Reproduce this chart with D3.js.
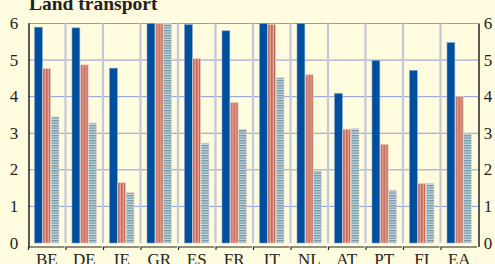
<!DOCTYPE html>
<html>
<head>
<meta charset="utf-8">
<script src="https://cdn.jsdelivr.net/npm/d3@7"></script>
<style>
  body { margin: 0; background: #fffbdf; }
  svg { display: block; }
  text { font-family: "Liberation Serif", "Times New Roman", serif; fill: #222; }
</style>
</head>
<body>
<div id="chart"></div>
<script>
// countries along the bottom
const countries = ["BE", "DE", "IE", "GR", "ES", "FR", "IT", "NL", "AT", "PT", "FI", "EA"];
const seriesNames = ["s1", "s2", "s3"];

// values (GR tops out at the axis limit)
const blueValues = [5.9, 5.88, 4.78, 6.0, 5.97, 5.8, 6.0, 6.0, 4.09, 4.99, 4.72, 5.48];
const redValues = [4.77, 4.87, 1.65, 6.0, 5.04, 3.84, 5.98, 4.6, 3.11, 2.7, 1.63, 4.01];
const tealValues = [3.45, 3.28, 1.38, 6.0, 2.73, 3.11, 4.52, 1.97, 3.13, 1.44, 1.63, 2.98];

const yTicks = [0, 1, 2, 3, 4, 5, 6];

const W = 495, H = 264;
const plotLeft = 28, plotRight = 478, plotTop = 23.5, plotBottom = 243;

const svg = d3.select("#chart").append("svg")
  .attr("width", W).attr("height", H);

svg.append("rect").attr("width", W).attr("height", H).attr("fill", "#fffbdf");

// stripe patterns for the second and third series
const defs = svg.append("defs");
const pRed = defs.append("pattern").attr("id", "redStripe")
  .attr("patternUnits", "userSpaceOnUse").attr("width", 3).attr("height", 4);
pRed.append("rect").attr("width", 3).attr("height", 4).attr("fill", "#e3a593");
pRed.append("rect").attr("width", 1.6).attr("height", 4).attr("fill", "#c26a5c");

const pTeal = defs.append("pattern").attr("id", "tealStripe")
  .attr("patternUnits", "userSpaceOnUse").attr("width", 4).attr("height", 2.5);
pTeal.append("rect").attr("width", 4).attr("height", 2.5).attr("fill", "#c6dbe0");
pTeal.append("rect").attr("width", 4).attr("height", 1.3).attr("fill", "#6e98a6");

const fills = ["#004f9e", "url(#redStripe)", "url(#tealStripe)"];

const x = d3.scaleBand().domain(countries).range([plotLeft, plotRight]);
const x1 = d3.scaleBand().domain(seriesNames).range([6.5, 31]).paddingInner(0.06);
const y = d3.scaleLinear().domain([0, 6]).range([plotBottom, plotTop]);

// horizontal grid
svg.append("g")
  .selectAll("line")
  .data(yTicks.filter((d) => d > 0))
  .join("line")
  .attr("x1", plotLeft).attr("x2", plotRight)
  .attr("y1", (d) => y(d)).attr("y2", (d) => y(d))
  .attr("stroke", "#8b9ad6").attr("stroke-width", 1);

// vertical grid at category boundaries
svg.append("g")
  .selectAll("line")
  .data(countries.slice(1))
  .join("line")
  .attr("x1", (d) => x(d)).attr("x2", (d) => x(d))
  .attr("y1", plotTop).attr("y2", plotBottom)
  .attr("stroke", "#c3c8d8").attr("stroke-width", 2.2);

// bars
const rows = countries.map((c, i) => ({
  country: c,
  vals: [blueValues[i], redValues[i], tealValues[i]],
}));

const groups = svg.append("g")
  .selectAll("g")
  .data(rows)
  .join("g")
  .attr("transform", (d) => `translate(${x(d.country)},0)`);

groups.selectAll("rect")
  .data((d) => d.vals.map((v, j) => ({ key: seriesNames[j], v: v, j: j })))
  .join("rect")
  .attr("x", (d) => x1(d.key))
  .attr("width", x1.bandwidth())
  .attr("y", (d) => y(d.v))
  .attr("height", (d) => plotBottom - y(d.v))
  .attr("fill", (d) => fills[d.j])
  .attr("stroke", (d) => (d.j == 0 ? "#7fa2cc" : "#ecd3c8"))
  .attr("stroke-width", 0.6);

// axes lines
svg.append("line").attr("x1", plotLeft + 1).attr("x2", plotLeft + 1)
  .attr("y1", plotTop).attr("y2", 247).attr("stroke", "#222").attr("stroke-width", 1.5);
svg.append("line").attr("x1", plotRight + 1).attr("x2", plotRight + 1)
  .attr("y1", plotTop).attr("y2", 247).attr("stroke", "#222").attr("stroke-width", 1.5);

// bottom bracket-style axis
const axisY = 247;
const xa = svg.append("g");
xa.selectAll("path")
  .data(countries)
  .join("path")
  .attr("d", (d) => `M${x(d) + 0.5},${axisY + 3}V${axisY}H${x(d) + x.bandwidth() - 1}`)
  .attr("fill", "none").attr("stroke", "#222").attr("stroke-width", 1.2);

// labels sit low, partly under the bottom edge as in the source
xa.selectAll("text")
  .data(countries)
  .join("text")
  .attr("x", (d) => x(d) + x.bandwidth() / 2)
  .attr("y", 264.5)
  .attr("text-anchor", "middle")
  .attr("font-size", 17)
  .text((d) => d);

// y tick labels, both sides
svg.append("g").selectAll("text")
  .data(yTicks)
  .join("text")
  .attr("x", 14).attr("y", (d) => y(d) + 5.5)
  .attr("text-anchor", "middle")
  .attr("font-size", 17)
  .text((d) => d);

svg.append("g").selectAll("text")
  .data(yTicks)
  .join("text")
  .attr("x", 488).attr("y", (d) => y(d) + 5.5)
  .attr("text-anchor", "middle")
  .attr("font-size", 17)
  .text((d) => d);

svg.append("text")
  .attr("x", 29).attr("y", 10)
  .attr("font-size", 19.5).attr("font-weight", "bold")
  .text("Land transport");
</script>
</body>
</html>
